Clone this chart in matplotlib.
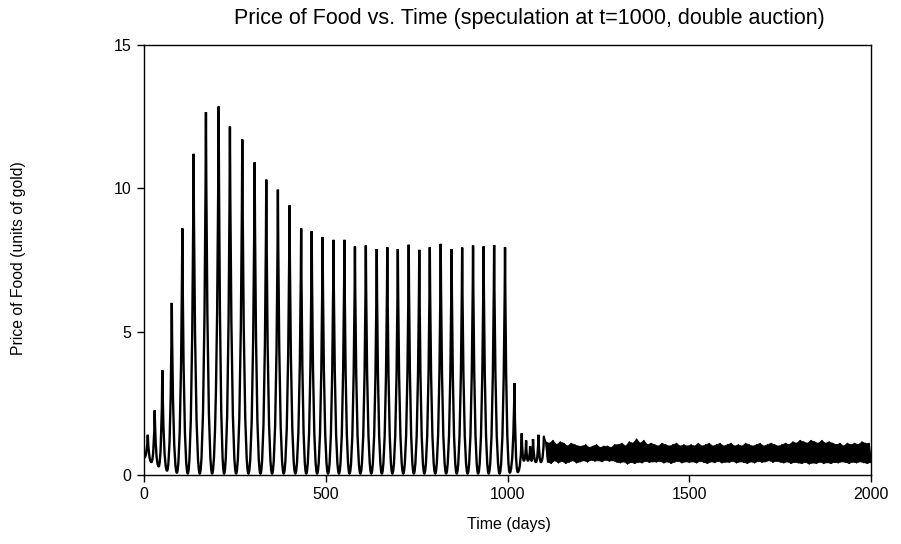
import numpy as np
import matplotlib.pyplot as plt
from matplotlib.path import Path
from matplotlib.patches import PathPatch

plt.rcParams['font.family'] = ['Liberation Sans', 'DejaVu Sans']

# big oscillations: alternating troughs and peaks (day, price)
ext_t = [0, 10, 20, 29, 40, 50, 63, 76, 90, 105, 120, 136, 153, 170, 187, 205, 220,
         236, 253, 270, 287, 304, 320, 336, 352, 368, 384, 400, 416, 432, 446, 461, 476,
         491, 506, 521, 536, 551, 565, 580, 595, 610, 625, 640, 654, 669, 683, 698, 713,
         728, 742, 757, 771, 786, 801, 816, 831, 846, 860, 875, 890, 905, 919, 934, 948,
         963, 978, 993, 1006, 1019, 1028, 1039, 1045, 1051, 1056, 1062, 1066, 1070,
         1078, 1085, 1092, 1100]
ext_v = [0.6, 1.4, 0.45, 2.25, 0.3, 3.65, 0.15, 6.0, 0.08, 8.6, 0.05, 11.2, 0.05, 12.65,
         0.05, 12.85, 0.05, 12.15, 0.05, 11.7, 0.05, 10.9, 0.05, 10.3, 0.05, 9.95, 0.05,
         9.4, 0.05, 8.6, 0.05, 8.5, 0.05, 8.3, 0.05, 8.2, 0.05, 8.2, 0.05, 7.97, 0.05, 8.0,
         0.05, 7.88, 0.05, 7.94, 0.05, 7.88, 0.05, 8.03, 0.05, 7.85, 0.05, 7.94, 0.05, 8.06,
         0.05, 7.88, 0.05, 7.93, 0.05, 8.0, 0.05, 7.97, 0.05, 8.02, 0.05, 7.94, 0.08, 3.2,
         0.1, 1.45, 0.5, 1.2, 0.5, 1.0, 0.5, 1.25, 0.45, 1.4, 0.45, 1.35]

# noisy regime after t=1100: band highs and lows every 10 days
hi_v = [1.15, 1.1, 1.2, 1.05, 1.15, 1.1, 1.0, 1.1, 1.05, 1.0,
        1.0, 1.05, 0.95, 1.0, 1.05, 0.95, 1.0, 1.0, 0.95, 1.05,
        1.05, 1.1, 1.0, 1.15, 1.1, 1.25, 1.1, 1.2, 1.05, 1.1,
        1.05, 1.0, 1.1, 1.05, 1.0, 1.05, 1.1, 1.0, 1.05, 1.0,
        1.05, 1.0, 1.1, 1.0, 1.05, 1.1, 1.0, 1.05, 1.1, 1.0,
        1.05, 1.1, 1.0, 1.05, 1.0, 1.1, 1.05, 1.0, 1.05, 1.1,
        1.0, 1.05, 1.1, 1.05, 1.0, 1.05, 1.1, 1.05, 1.15, 1.1,
        1.2, 1.15, 1.1, 1.2, 1.15, 1.1, 1.2, 1.1, 1.15, 1.1,
        1.05, 1.1, 1.0, 1.1, 1.05, 1.1, 1.05, 1.15, 1.1, 1.1]
lo_v = [0.45, 0.4, 0.5, 0.42, 0.48, 0.4, 0.45, 0.5, 0.42, 0.46,
        0.5, 0.45, 0.52, 0.48, 0.5, 0.46, 0.52, 0.48, 0.5, 0.45,
        0.42, 0.46, 0.38, 0.44, 0.4, 0.45, 0.42, 0.48, 0.44, 0.46,
        0.45, 0.48, 0.42, 0.46, 0.4, 0.45, 0.48, 0.42, 0.46, 0.44,
        0.46, 0.42, 0.48, 0.44, 0.4, 0.46, 0.43, 0.48, 0.42, 0.45,
        0.44, 0.48, 0.42, 0.46, 0.44, 0.4, 0.46, 0.42, 0.48, 0.44,
        0.46, 0.5, 0.44, 0.48, 0.45, 0.42, 0.46, 0.4, 0.44, 0.42,
        0.4, 0.44, 0.38, 0.42, 0.4, 0.45, 0.4, 0.43, 0.4, 0.44,
        0.42, 0.46, 0.44, 0.4, 0.45, 0.42, 0.46, 0.43, 0.4, 0.44]
noise_t0, noise_step = 1100, 5


def spike_path(ts, vs):
    # smooth curve through alternating extremes: flat bottoms, sharp tips
    verts = [(ts[0], vs[0])]
    codes = [Path.MOVETO]
    for i in range(len(ts) - 1):
        ta, va, tb, vb = ts[i], vs[i], ts[i + 1], vs[i + 1]
        d = tb - ta
        if vb > va:   # rising to a peak
            c1 = (ta + 0.55 * d, va)
            c2 = (tb - 0.15 * d, va + 0.45 * (vb - va))
        else:         # falling to a trough
            c1 = (ta + 0.15 * d, vb + 0.45 * (va - vb))
            c2 = (tb - 0.55 * d, vb)
        verts += [c1, c2, (tb, vb)]
        codes += [Path.CURVE4] * 3
    return Path(verts, codes)


fig = plt.figure(figsize=(9.01, 5.44), dpi=100)
ax = fig.add_axes([0.16, 0.127, 0.8067, 0.7905])

ax.add_patch(PathPatch(spike_path(ext_t, ext_v), fill=False, lw=1.7, ec='black'))

noise_v = [ext_v[-1]]
for h, l in zip(hi_v, lo_v):
    noise_v += [h, l]
noise_t = noise_t0 + noise_step * np.arange(len(noise_v))
ax.plot(noise_t, noise_v, color='black', lw=1.0)
# solid band between the highs and the lows
t_hi = noise_t[1::2]
t_lo = noise_t[2::2]
band = np.column_stack([np.r_[t_hi, t_lo[::-1]], np.r_[hi_v, lo_v[::-1]]])
ax.fill(band[:, 0], band[:, 1], color='black', lw=0.5)

ax.set_xlim(0, 2000)
ax.set_ylim(0, 15)
ax.set_xticks([0, 500, 1000, 1500, 2000])
ax.set_yticks([0, 5, 10, 15])
ax.tick_params(direction='out', length=5, width=1, labelsize=11.5, pad=4)
for s in ax.spines.values():
    s.set_linewidth(1.0)

fig.text(0.587, 0.966, 'Price of Food vs. Time (speculation at t=1000, double auction)',
         ha='center', va='center', fontsize=15.5)
fig.text(0.565, 0.035, 'Time (days)', ha='center', va='center', fontsize=11.5)
fig.text(0.021, 0.525, 'Price of Food (units of gold)', ha='center', va='center',
         rotation=90, fontsize=11.3)

fig.savefig('out.png', dpi=100)
